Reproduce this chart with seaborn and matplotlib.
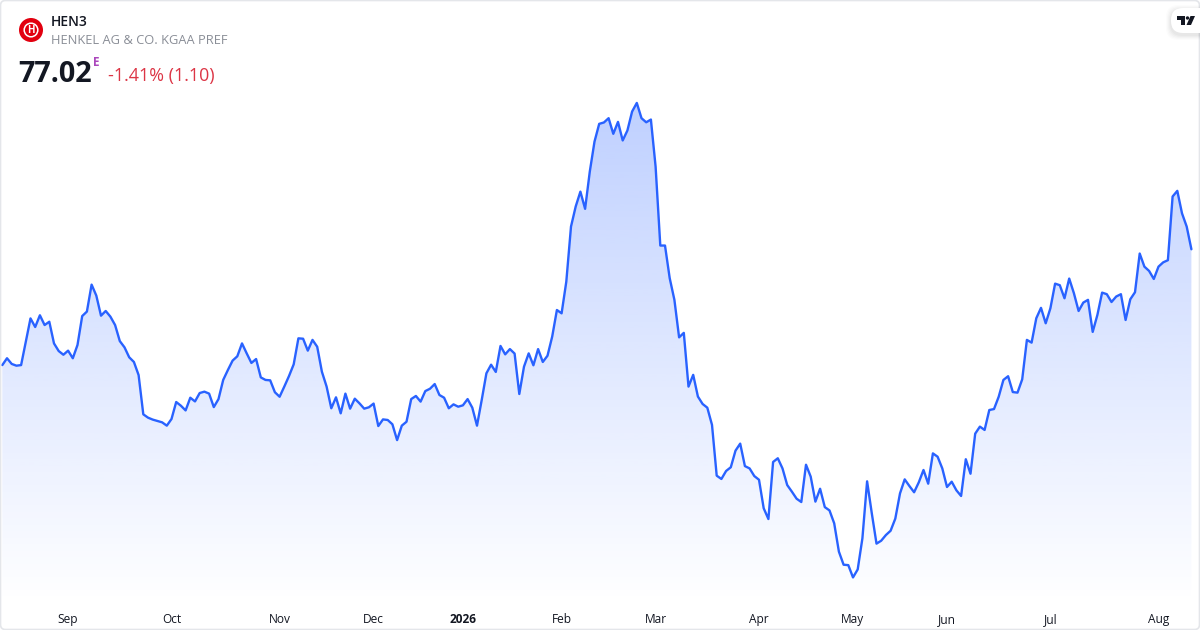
import numpy as np
import pandas as pd
import matplotlib
matplotlib.use('Agg')
import matplotlib.pyplot as plt
from matplotlib.patches import Circle, FancyBboxPatch, Polygon
import seaborn as sns

# daily closes
prices = [
    71.09, 71.44, 71.15, 71.06, 71.09, 72.29, 73.48, 73.04, 73.64, 73.14, 73.31, 72.20, 71.81, 71.62, 71.83, 71.44,
    72.12, 73.60, 73.83, 75.21, 74.65, 73.62, 73.86, 73.57, 73.14, 72.32, 72.00, 71.49, 71.25, 70.58, 68.57, 68.40,
    68.30, 68.23, 68.16, 67.99, 68.33, 69.20, 69.01, 68.77, 69.42, 69.23, 69.66, 69.73, 69.63, 68.94, 69.35, 70.33,
    70.84, 71.32, 71.54, 72.20, 71.69, 71.20, 71.40, 70.46, 70.33, 70.31, 69.70, 69.47, 69.99, 70.53, 71.13, 72.46,
    72.44, 71.83, 72.38, 72.03, 70.75, 69.99, 68.88, 69.44, 68.62, 69.63, 68.86, 69.37, 69.13, 68.86, 68.93, 69.12,
    67.97, 68.31, 68.28, 68.06, 67.25, 67.99, 68.19, 69.35, 69.51, 69.22, 69.76, 69.88, 70.12, 69.56, 69.42, 68.88,
    69.08, 68.96, 69.03, 69.35, 68.91, 67.99, 69.30, 70.67, 71.11, 70.74, 72.07, 71.64, 71.91, 71.68, 69.61, 71.01,
    71.69, 71.08, 71.91, 71.25, 71.57,
    72.55, 73.91, 73.74, 75.36, 78.18, 79.21, 79.97, 79.09, 81.00, 82.53, 83.44, 83.51, 83.73, 82.93, 83.54, 82.59,
    83.10, 84.07, 84.51, 83.73, 83.52, 83.66, 81.25, 77.21, 77.21, 75.54, 74.43, 72.51, 72.74, 69.99, 70.59, 69.48,
    69.10, 68.91, 68.03, 65.43,
    65.26, 65.67, 65.86, 66.71, 67.07, 65.92, 65.80, 65.41, 65.22, 63.76, 63.21, 66.13, 66.32, 65.80, 64.95, 64.61,
    64.25, 64.08, 65.99, 65.38, 64.10, 64.76, 63.82, 63.65, 62.99, 61.54, 60.87, 60.85, 60.22, 60.63, 62.22, 65.14,
    63.50, 61.95, 62.10, 62.39, 62.61, 63.23, 64.52, 65.24, 64.90, 64.58, 65.09, 65.72, 65.02, 66.57, 66.40, 65.80,
    64.85, 65.12, 64.68, 64.39, 66.27, 65.53, 67.58, 67.94, 67.77,
    68.79, 68.84, 69.47, 70.33, 70.52, 69.71, 69.68, 70.36, 72.38, 72.24, 73.49, 74.02, 73.23, 74.00, 75.26, 75.18,
    74.51, 75.52, 74.77, 73.86, 74.29, 74.43, 72.79, 73.66, 74.80, 74.72, 74.32, 74.60, 74.72, 73.40, 74.46, 74.82,
    76.80, 76.13, 75.91, 75.50, 76.13, 76.35, 76.46, 79.72, 80.01, 78.86, 78.18, 77.02,
]
tick_pos = [14, 36, 59, 79, 98, 119, 139, 161, 181, 201, 223, 246]
tick_labels = ['Sep', 'Oct', 'Nov', 'Dec', '2026', 'Feb', 'Mar', 'Apr', 'May', 'Jun', 'Jul', 'Aug']

symbol = 'HEN3'
name = 'HENKEL AG & CO. KGAA PREF'
last_price = '77.02'
change_text = '-1.41% (1.10)'

sns.set_theme(style='white')
plt.rcParams['font.family'] = ['Open Sans', 'DejaVu Sans']

BLUE = '#2962ff'
W, H = 1200, 630

df = pd.DataFrame({'day': np.arange(len(prices)), 'price': prices})

fig = plt.figure(figsize=(12, 6.3), dpi=100, facecolor='white')

# main axes stop above the month labels, one day is about 4.7 px
ax = fig.add_axes([0, 26 / H, 1, 604 / H])
ax.patch.set_alpha(0)
x0, xstep = 2.3, 4.7
ax.set_xlim(-x0 / xstep, (W - x0) / xstep)
ax.set_ylim(58.86, 89.78)

sns.lineplot(data=df, x='day', y='price', ax=ax, color=BLUE, linewidth=1.7, zorder=3)

# area under the line, gradient clipped to the polygon
area = ax.fill_between(df['day'], df['price'], 58.86, color='none', lw=0)
grad = np.zeros((256, 1, 4))
grad[:, :, 0] = 0x29 / 255
grad[:, :, 1] = 0x62 / 255
grad[:, :, 2] = 1.0
grad[:, :, 3] = np.linspace(0.3, 0.0, 256)[:, None]
img = ax.imshow(grad, extent=[0, len(prices) - 1, 58.86, 84.51], origin='upper',
                aspect='auto', zorder=1, interpolation='bilinear')
img.set_clip_path(area.get_paths()[0], transform=ax.transData)
ax.set_xlim(-x0 / xstep, (W - x0) / xstep)
ax.set_ylim(58.86, 89.78)

ax.set_xticks(tick_pos)
ax.set_xticklabels(tick_labels)
ax.set_yticks([])
ax.set_xlabel('')
ax.set_ylabel('')
ax.tick_params(axis='x', length=0, pad=6.5, labelsize=8.6, labelcolor='#131722')
for lab in ax.get_xticklabels():
    if lab.get_text() == '2026':
        lab.set_fontweight('bold')
sns.despine(ax=ax, left=True, bottom=True)

# overlay in pixel coordinates for the header and the card frame
ov = fig.add_axes([0, 0, 1, 1], zorder=5)
ov.set_xlim(0, W)
ov.set_ylim(H, 0)
ov.axis('off')
ov.patch.set_alpha(0)

ov.add_patch(FancyBboxPatch((0.5, 0.5), W - 1, H - 1, boxstyle='round,pad=0,rounding_size=5',
                            fc='none', ec='#e4e6ea', lw=1.2))

# logo
ov.add_patch(Circle((31, 30), 12, fc='#e2000f', ec='none'))
ov.add_patch(Circle((31, 30), 6.8, fc='none', ec='white', lw=1.1))
ov.text(31, 30.3, 'H', color='white', fontsize=7, fontweight='bold', ha='center', va='center')

ov.text(51, 22, symbol, fontsize=10, fontweight='semibold', color='#131722', va='center')
ov.text(51, 41, name, fontsize=9.3, color='#8a8e97', va='center')
ov.text(18.5, 74, last_price, fontsize=20.8, fontweight='bold', color='#131722', va='center')
ov.text(93, 63, 'E', fontsize=8.5, fontweight='bold', color='#ab47bc', va='center')
ov.text(108, 76, change_text, fontsize=12.9, color='#dc3545', va='center')

# tradingview badge
for off, a in [(5, 0.012), (4, 0.015), (3, 0.018), (2, 0.022), (1, 0.025)]:
    ov.add_patch(FancyBboxPatch((1171 - off, 8 - off + 2), 50 + off, 25 + 2 * off,
                                boxstyle='round,pad=0,rounding_size=12', fc='black', ec='none', alpha=a))
ov.add_patch(FancyBboxPatch((1171, 8), 50, 25, boxstyle='round,pad=0,rounding_size=12', fc='white', ec='none'))
ov.add_patch(Polygon([(1177, 16), (1185, 16), (1185, 25), (1181, 25), (1181, 19.5), (1177, 19.5)], fc='#131722', ec='none'))
ov.add_patch(Circle((1187.5, 18), 1.7, fc='#131722', ec='none'))
ov.add_patch(Polygon([(1190.5, 16), (1195, 16), (1191, 25), (1186.5, 25)], fc='#131722', ec='none'))

fig.savefig('out.png', dpi=100)
